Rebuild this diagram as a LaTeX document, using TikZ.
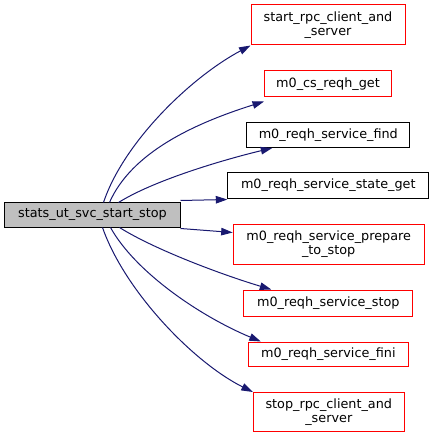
\documentclass[tikz,border=0pt]{standalone}
\usepackage{fontspec}
\setmainfont{DejaVu Sans}
\usetikzlibrary{arrows.meta}
\definecolor{edgeblue}{RGB}{25,25,112}
\definecolor{mainfill}{RGB}{191,191,191}
\tikzset{
  fn/.style={draw=red, line width=1bp, fill=white, inner sep=0pt, align=center,
    font=\fontsize{12.8bp}{14.3bp}\selectfont},
  fnb/.style={fn, draw=black},
  mainnode/.style={fn, draw=black, fill=mainfill},
  call/.style={draw=edgeblue, line width=1bp, -{Triangle[length=11.5bp,width=7.5bp]}},
}
\begin{document}
\begin{tikzpicture}[x=1bp,y=-1bp]
\useasboundingbox (0,0) rectangle (435,439);
\node[mainnode, minimum width=175bp, minimum height=24bp] (m) at (92.5,215) {stats\_ut\_svc\_start\_stop};
\node[fn, minimum width=154bp, minimum height=40bp] (a) at (328,25) {start\_rpc\_client\_and\\\_server};
\node[fn, minimum width=127bp, minimum height=26bp] (b) at (328,84) {m0\_cs\_reqh\_get};
\node[fnb, minimum width=163bp, minimum height=25bp] (c) at (328.3,135) {m0\_reqh\_service\_find};
\node[fnb, minimum width=201bp, minimum height=26bp] (d) at (328.3,185.5) {m0\_reqh\_service\_state\_get};
\node[fn, minimum width=191bp, minimum height=40bp] (e) at (328.7,244) {m0\_reqh\_service\_prepare\\\_to\_stop};
\node[fn, minimum width=169bp, minimum height=26bp] (f) at (328.3,303) {m0\_reqh\_service\_stop};
\node[fn, minimum width=160bp, minimum height=24bp] (g) at (328.3,354) {m0\_reqh\_service\_fini};
\node[fn, minimum width=151bp, minimum height=39bp] (h) at (328.8,412) {stop\_rpc\_client\_and\\\_server};

\draw[call] (m.north west) ++(99,0) .. controls +(20,-60) and +(-60,32) .. (a.south west);
\draw[call] (m.north west) ++(105,0) .. controls +(22,-50) and +(-70,22) .. ([yshift=-4bp]b.south west);
\draw[call] (m.north west) ++(114,0) .. controls +(35,-22) and +(-50,12) .. ([xshift=26bp]c.south west);
\draw[call] ([yshift=2bp]m.north east) -- ([yshift=-0.5bp]d.south west);
\draw[call] ([yshift=-1bp]m.south east) -- ([yshift=-9bp]e.north west);
\draw[call] (m.south west) ++(115,0) .. controls +(35,22) and +(-50,-15) .. ([xshift=28bp]f.north west);
\draw[call] (m.south west) ++(106,0) .. controls +(25,45) and +(-60,-25) .. ([xshift=13bp]g.north west);
\draw[call] (m.south west) ++(98,0) .. controls +(22,63) and +(-60,-30) .. (h.north west);
\end{tikzpicture}
\end{document}
